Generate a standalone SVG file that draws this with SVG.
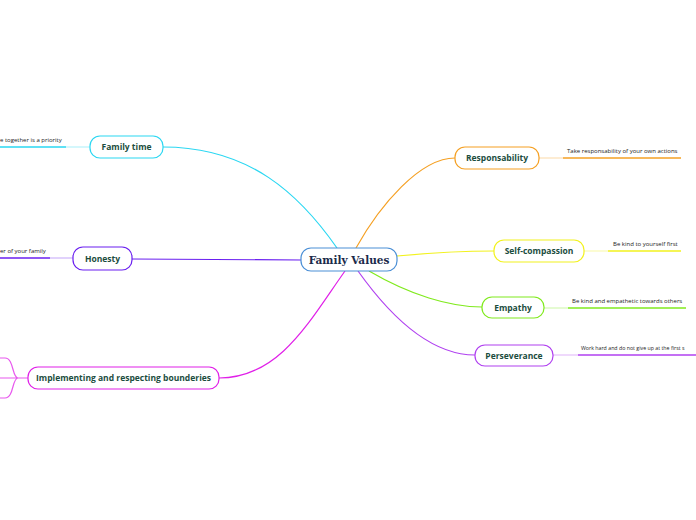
<svg xmlns="http://www.w3.org/2000/svg" width="696" height="520" viewBox="0 0 696 520">
<style>
.n{fill:#fff;stroke-width:1.2}
.t{font-family:"Open Sans","Noto Sans",sans-serif;font-weight:700;font-size:8.5px;fill:#1b4d3e;text-anchor:middle}
.s{font-family:"Open Sans","Noto Sans",sans-serif;font-size:6px;fill:#222}
.c{fill:none;stroke-width:1.2}
.u{fill:none;stroke-width:1.6}
.l{fill:none;stroke-width:1;opacity:0.4}
</style>
<rect width="696" height="520" fill="#fff"/>
<g id="connectors">
<path class="c" stroke="#2ad7f2" d="M163,147 C250,147 300,195 337,248"/>
<path class="c" stroke="#6a1ff0" d="M132,259 L301,260"/>
<path class="c" stroke="#e020e8" d="M219,378 C280,378 310,320 345,271"/>
<path class="c" stroke="#f5a023" d="M356,248 C380,205 420,158 455,158"/>
<path class="c" stroke="#f2f21e" d="M397,256 C440,252 470,251 494,251"/>
<path class="c" stroke="#80ea1e" d="M369,271 C410,295 450,307 482,307"/>
<path class="c" stroke="#b040f0" d="M358,271 C400,330 440,355 475,355"/>
<path class="l" stroke="#2ad7f2" d="M90,147 L66,147"/>
<path class="u" stroke="#2ad7f2" d="M66,147 L0,147"/>
<path class="l" stroke="#6a1ff0" d="M73,258 L50,258"/>
<path class="u" stroke="#6a1ff0" d="M50,258 L0,258"/>
<path class="c" stroke="#e020e8" opacity="0.75" d="M28,378 L18,378 C12,378 14,358 5,358 L0,358 M18,378 L0,378 M18,378 C12,378 14,398 5,398 L0,398"/>
<path class="l" stroke="#f5a023" d="M539,158 L563,158"/>
<path class="u" stroke="#f5a023" d="M563,158 L681,158"/>
<path class="l" stroke="#f2f21e" d="M584,251 L608,251"/>
<path class="u" stroke="#f2f21e" d="M608,251 L681,251"/>
<path class="l" stroke="#80ea1e" d="M544,308 L568,308"/>
<path class="u" stroke="#80ea1e" d="M568,308 L686,308"/>
<path class="l" stroke="#b040f0" d="M553,355 L578,355"/>
<path class="u" stroke="#b040f0" d="M578,355 L696,355"/>
</g>
<g id="center">
<rect class="n" x="301" y="248" width="96" height="23" rx="10" stroke="#4a8fd6"/>
<text x="349" y="263.5" font-family="'DejaVu Serif',serif" font-weight="700" font-size="10.5" fill="#1a2a4a" text-anchor="middle">Family Values</text>
</g>
<g id="family-time">
<rect class="n" x="90" y="136" width="73" height="22" rx="10" stroke="#2ad7f2"/>
<text class="t" x="126.5" y="150">Family time</text>
<text class="s" x="0" y="142">e together is a priority</text>
</g>
<g id="honesty">
<rect class="n" x="73" y="247" width="59" height="23" rx="10" stroke="#6a1ff0"/>
<text class="t" x="102.5" y="261.5">Honesty</text>
<text class="s" x="0" y="253">er of your family</text>
</g>
<g id="boundaries">
<rect class="n" x="28" y="367" width="191" height="22" rx="10" stroke="#e020e8"/>
<text class="t" x="123.5" y="381">Implementing and respecting bounderies</text>
</g>
<g id="responsability">
<rect class="n" x="455" y="147" width="84" height="22" rx="10" stroke="#f5a023"/>
<text class="t" x="497" y="161">Responsability</text>
<text class="s" x="567" y="153">Take responsability of your own actions</text>
</g>
<g id="self-compassion">
<rect class="n" x="494" y="240" width="90" height="22" rx="10" stroke="#f2f21e"/>
<text class="t" x="539" y="254">Self-compassion</text>
<text class="s" x="613" y="246">Be kind to yourself first</text>
</g>
<g id="empathy">
<rect class="n" x="482" y="297" width="62" height="21" rx="10" stroke="#80ea1e"/>
<text class="t" x="513" y="310.5">Empathy</text>
<text class="s" x="572" y="303">Be kind and empathetic towards others</text>
</g>
<g id="perseverance">
<rect class="n" x="475" y="345" width="78" height="21" rx="10" stroke="#b040f0"/>
<text class="t" x="514" y="358.5">Perseverance</text>
<text class="s" transform="translate(581,350) scale(0.88)">Work hard and do not give up at the first s</text>
</g>
</svg>
